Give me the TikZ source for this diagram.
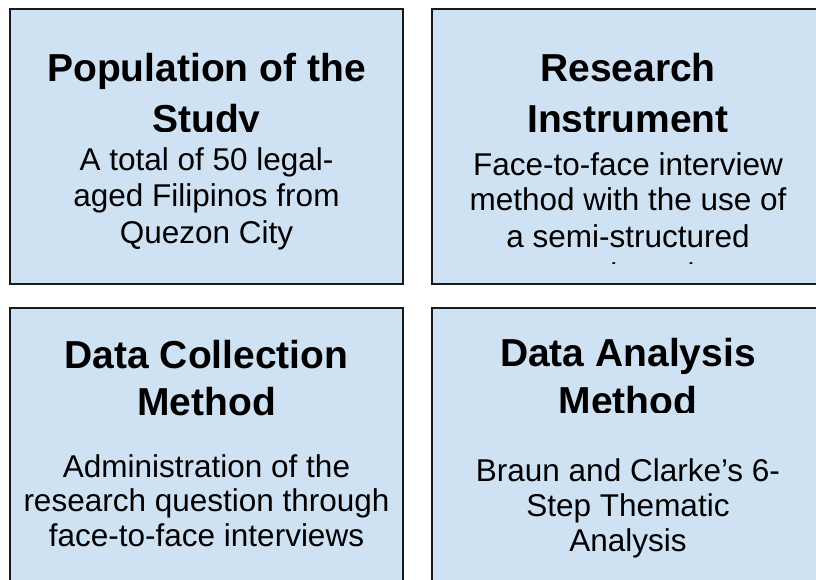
\documentclass[tikz,border=0pt]{standalone}
\usepackage{fontspec}
\setmainfont{Liberation Sans}
\definecolor{boxfill}{HTML}{CFE2F3}
\begin{document}
\begin{tikzpicture}[x=1pt,y=-1pt,
  panel/.style={draw=black!90, line width=2pt, fill=boxfill, inner sep=0pt},
  ttl/.style={font=\fontsize{39}{51}\selectfont\bfseries, anchor=base, inner sep=0pt},
  bdy/.style={font=\fontsize{31.5}{36}\selectfont, anchor=base, inner sep=0pt}]
\useasboundingbox (0,0) rectangle (816,580);
\clip (0,0) rectangle (816,580);
% panels
\node[panel, minimum width=393pt, minimum height=275pt] (b1) at (206.5,146.5) {};
\node[panel, minimum width=392pt, minimum height=275pt] (b2) at (628,146.5) {};
\node[panel, minimum width=393pt, minimum height=292pt] (b3) at (206.5,454) {};
\node[panel, minimum width=392pt, minimum height=292pt] (b4) at (628,454) {};
% box 1
\begin{scope}
\clip (12,11) rectangle (401,131.5);
\node[ttl] (t1a) at (206.5,82) {Population of the};
\node[ttl] (t1b) at (206.5,133) {Study};
\end{scope}
\node[bdy] (p1a) at (206.5,171) {A total of 50 legal-};
\node[bdy] (p1b) at (206.5,207) {aged Filipinos from};
\node[bdy] (p1c) at (206.5,243) {Quezon City};
% box 2
\begin{scope}
\clip (434,11) rectangle (816,131.5);
\node[ttl] (t2a) at (628,82) {Research};
\node[ttl] (t2b) at (628,133) {Instrument};
\end{scope}
\begin{scope}
\clip (434,140) rectangle (816,263.8);
\node[bdy] (p2a) at (628,176) {Face-to-face interview};
\node[bdy] (p2b) at (628,211) {method with the use of};
\node[bdy] (p2c) at (628,247) {a semi-structured};
\node[bdy] (p2d) at (628,285) {questionnaire};
\end{scope}
% box 3
\node[ttl] (t3a) at (206.5,368) {Data Collection};
\node[ttl] (t3b) at (206.5,415) {Method};
\node[bdy] (p3a) at (206.5,477) {Administration of the};
\node[bdy] (p3b) at (206.5,511) {research question through};
\node[bdy] (p3c) at (206.5,546) {face-to-face interviews};
% box 4
\begin{scope}
\clip (434,310) rectangle (816,412);
\node[ttl] (t4a) at (628,366) {Data Analysis};
\node[ttl] (t4b) at (628,414) {Method};
\end{scope}
\node[bdy] (p4a) at (628,481) {Braun and Clarke’s 6-};
\node[bdy] (p4b) at (628,516) {Step Thematic};
\node[bdy] (p4c) at (628,551) {Analysis};
\end{tikzpicture}
\end{document}
